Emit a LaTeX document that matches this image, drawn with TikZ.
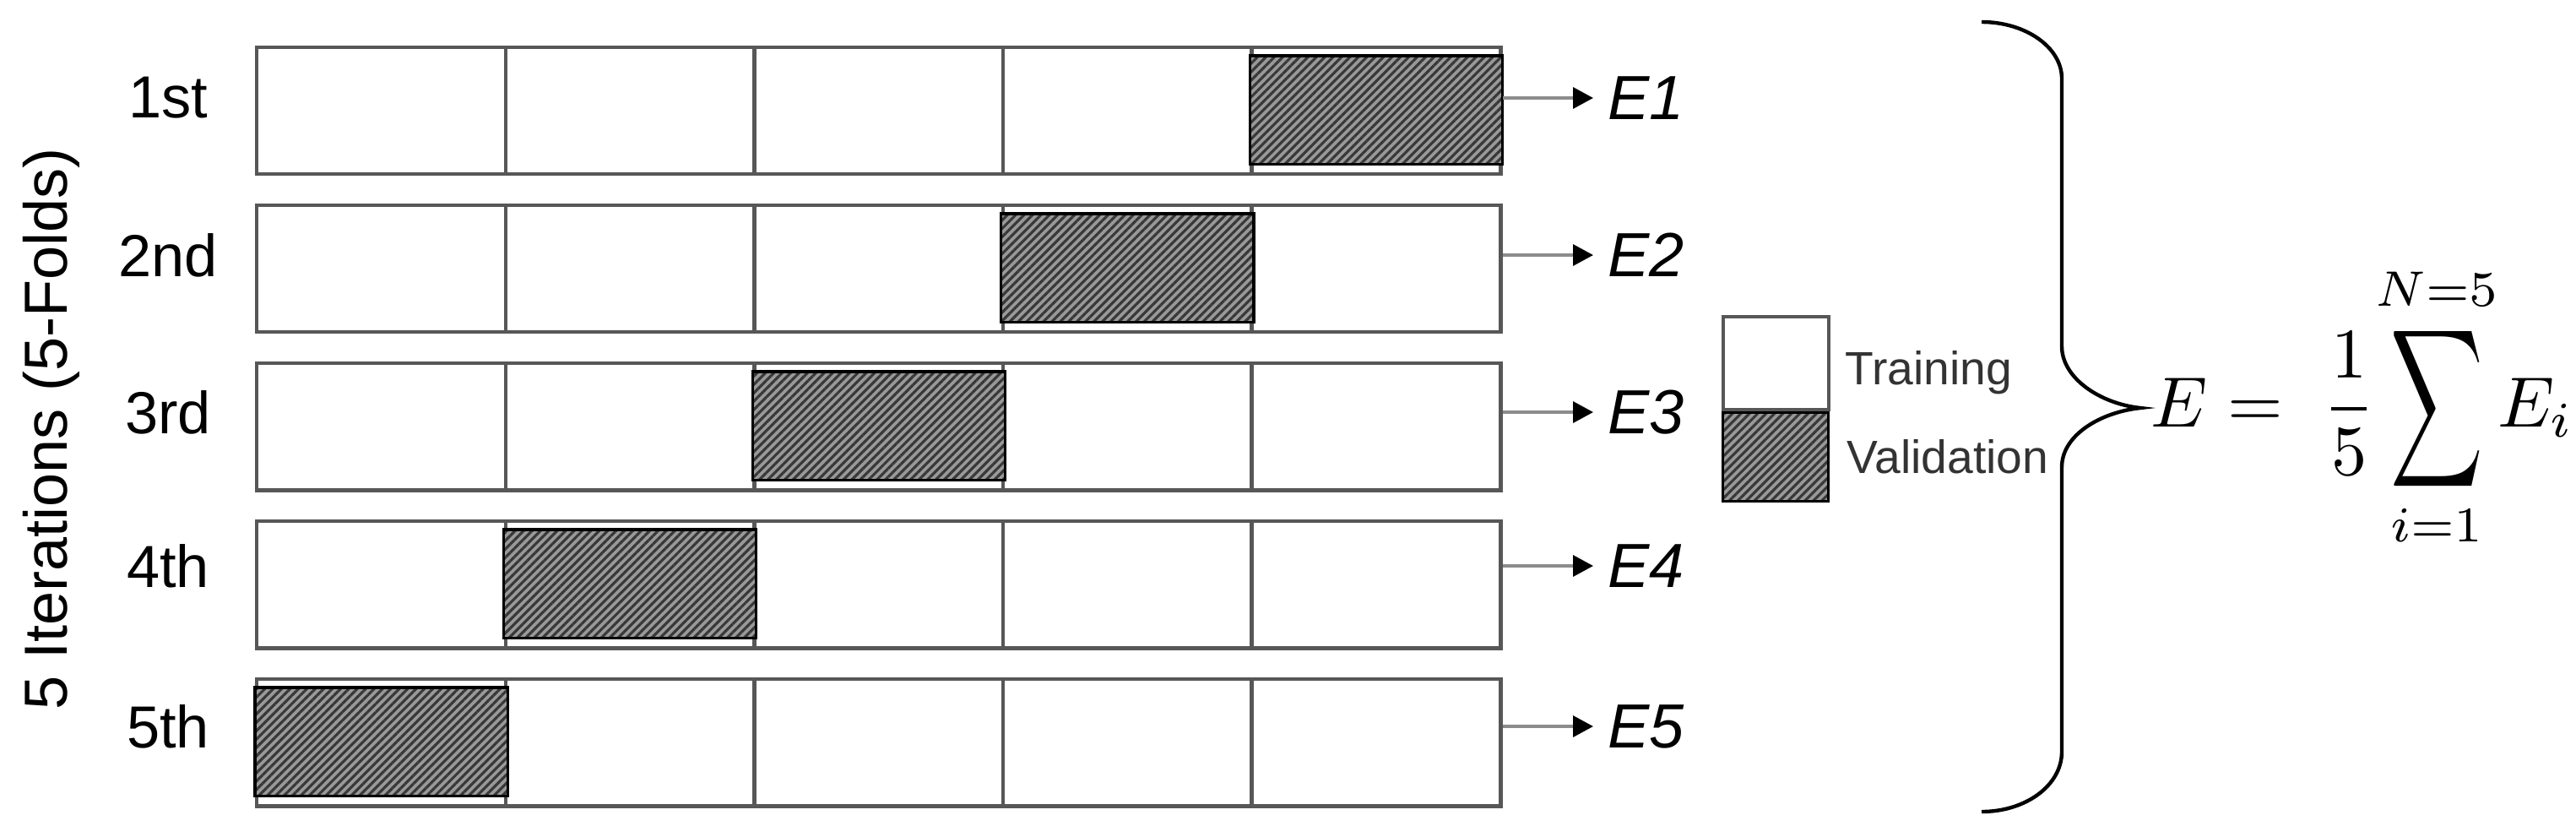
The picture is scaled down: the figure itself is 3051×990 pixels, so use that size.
\documentclass[tikz,border=0pt]{standalone}
\usepackage[no-math]{fontspec}
\usepackage{amsmath}
\usepackage{graphicx}
\usetikzlibrary{arrows.meta,patterns.meta}
\newfontfamily\arialf{Liberation Sans}
\tikzset{
  cell/.style={draw=black!66, line width=1.25pt, rectangle, minimum width=2.946cm,
    minimum height=1.5cm, inner sep=0pt, anchor=north west, fill=white},
  hatch/.style={draw=black, line width=0.9pt, preaction={fill=black!40},
    pattern={Lines[angle=45,distance=2pt,line width=0.9pt]}, pattern color=black!78},
  rowlab/.style={font=\arialf\fontsize{20}{24}\selectfont, inner sep=0pt},
  elab/.style={font=\arialf\itshape\fontsize{21}{25}\selectfont, anchor=west,
    inner xsep=0.17cm, inner ysep=0pt},
  earrow/.style={draw=black!45, line width=1pt,
    -{Triangle[length=0.24cm,width=0.25cm,color=black]}},
  legtxt/.style={font=\arialf\fontsize{15.7}{19}\selectfont, text=black!80,
    inner sep=0pt, anchor=base west},
  bracepath/.style={draw=black, line width=1.25pt},
}
\begin{document}
\begin{tikzpicture}[x=0.01cm,y=-0.01cm]
\useasboundingbox (0,0) rectangle (3051,990);
% cells
\foreach \r/\tp in {1/54,2/241,3/428,4/615,5/802}{
  \foreach \c in {1,...,5}{
    \node[cell] (r\r-\c) at ({302+(\c-1)*294.6},\tp) {};
  }
}
% validation folds
\foreach \r/\c in {1/5,2/4,3/3,4/2,5/1}{
  \draw[hatch] ([yshift=-0.12cm]r\r-\c.north west) rectangle ([yshift=0.14cm]r\r-\c.south east);
}
% labels and arrows
\foreach \r/\y/\lab in {1/116/1st,2/302/2nd,3/488/3rd,4/670/4th,5/860/5th}{
  \node[rowlab] (l\r) at (199,\y) {\lab};
  \node[elab] (e\r) at (1887,\y) {E\r};
  \draw[earrow] (r\r-5.east |- e\r.west) -- (e\r.west);
}
% vertical axis label
\node[rowlab, font=\arialf\fontsize{20.5}{24}\selectfont, rotate=90, anchor=base] (ylab) at (80,508) {5 Iterations (5-Folds)};
% legend
\node[cell, minimum width=1.25cm, minimum height=1.10cm] (legT) at (2039,373) {};
\node[hatch, rectangle, anchor=north west, inner sep=0pt, minimum width=1.25cm, minimum height=1.05cm] (legV) at (2039,487) {};
\node[legtxt] (tT) at (2185,455) {Training};
\node[legtxt] (tV) at (2187,560) {Validation};
% brace
\draw[bracepath] (2347,26) .. controls (2399,26) and (2442,56) .. (2442,93)
  -- (2442,410) .. controls (2442,448) and (2488,478) .. (2535,483)
  .. controls (2488,488) and (2442,515) .. (2442,553)
  -- (2442,890) .. controls (2442,930) and (2399,961) .. (2347,961);
% formula
\node[anchor=base west, inner sep=0pt] (formula) at (2547,505) {\scalebox{2.4}{$\displaystyle E=\;\frac{1}{5}\!\mathop{\vcenter{\hbox{\scalebox{0.9}[1.55]{$\displaystyle\sum$}}}}\limits_{i=1}^{N=5}\!E_i$}};
\end{tikzpicture}
\end{document}
